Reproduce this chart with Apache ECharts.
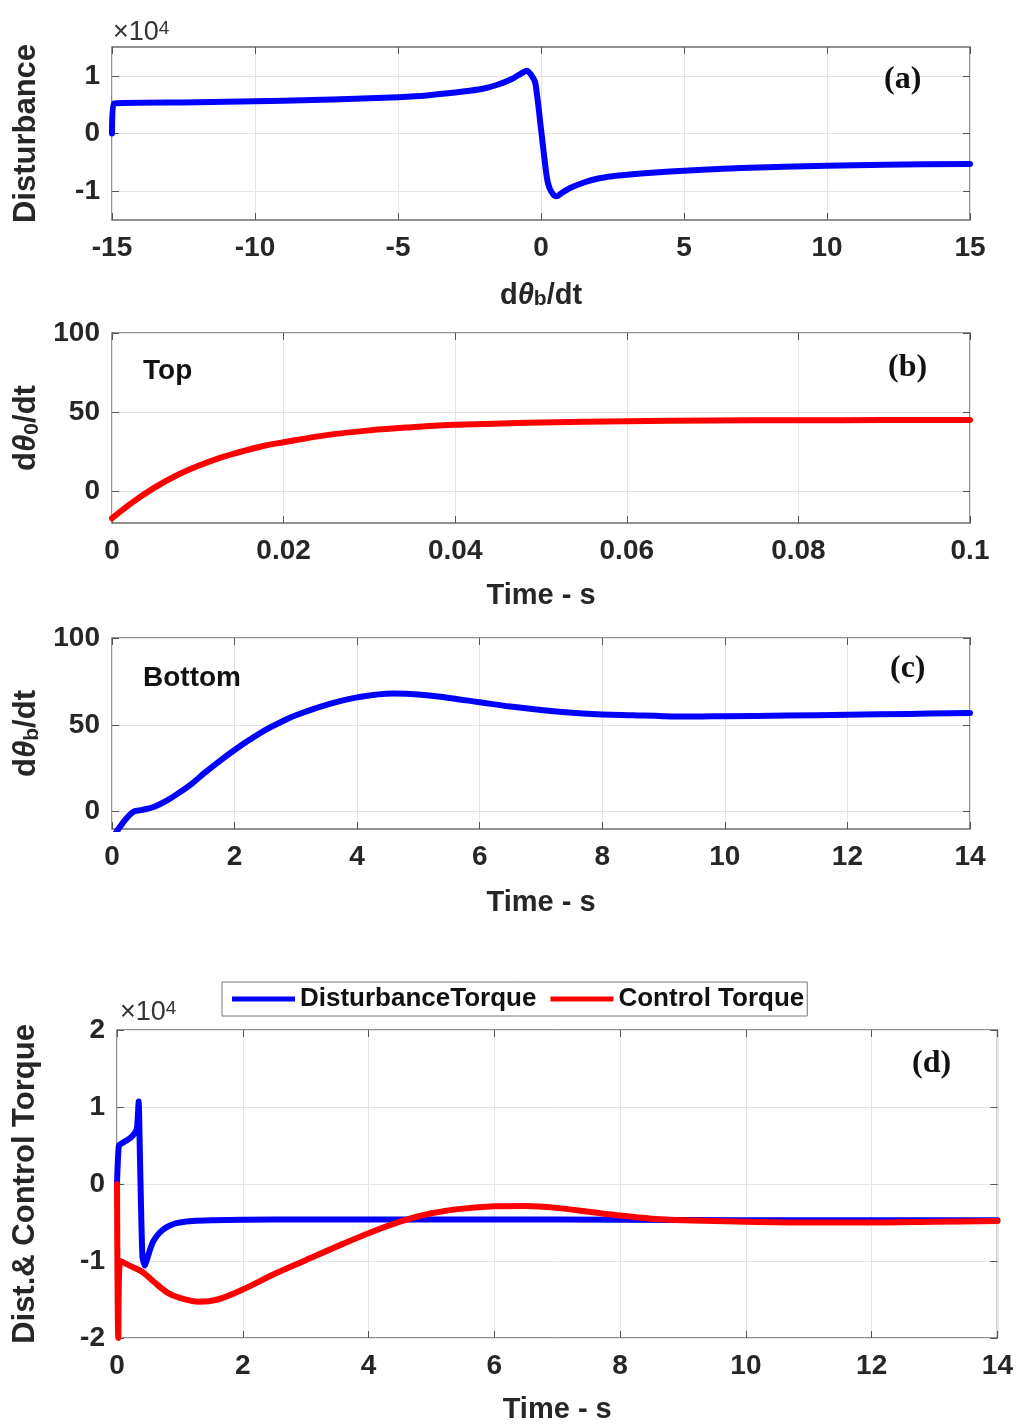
<!DOCTYPE html>
<html><head><meta charset="utf-8">
<script src="https://cdn.jsdelivr.net/npm/echarts@6.0.0/dist/echarts.min.js"></script>
<style>html,body{margin:0;padding:0;background:#fff}#c{width:1016px;height:1428px}</style>
</head><body><div id="c"></div>
<script>
// ---------- data ----------
// (a) disturbance vs d(theta_b)/dt, values in x10^4
const aX = [-15, -14.95, -12, -10, -8, -6, -5, -4, -3, -2.5, -2, -1.5, -1, -0.7, -0.5, -0.35, -0.2, 0, 0.2, 0.3, 0.45, 0.55, 0.7, 1, 1.5, 2, 2.5, 3, 4, 5, 7, 10, 12, 15];
const aY = [0, 0.52, 0.54, 0.56, 0.58, 0.61, 0.63, 0.66, 0.71, 0.74, 0.78, 0.85, 0.95, 1.04, 1.09, 1.02, 0.88, 0.08, -0.75, -0.95, -1.07, -1.09, -1.04, -0.95, -0.85, -0.78, -0.74, -0.715, -0.675, -0.645, -0.60, -0.56, -0.54, -0.53];
// (b) top: d(theta_0)/dt vs time
const bT = [0, 0.0025, 0.005, 0.0075, 0.01, 0.0125, 0.015, 0.0175, 0.02, 0.025, 0.03, 0.035, 0.04, 0.05, 0.06, 0.07, 0.08, 0.09, 0.1];
const bV = [-17, -6.5, 2.5, 10, 16, 21, 25, 28.5, 31, 35.5, 38.5, 40.5, 42, 43.5, 44.3, 44.7, 44.9, 45, 45];
// (c) bottom: d(theta_b)/dt vs time
const cT = [0, 0.35, 0.5, 0.7, 0.9, 1.1, 1.3, 1.5, 1.75, 2, 2.25, 2.5, 2.75, 3, 3.5, 4, 4.6, 5, 5.5, 6, 6.5, 7, 7.5, 8, 8.5, 9, 9.5, 10, 11, 12, 13, 14];
const cV = [-16, 0, 1, 3, 6.5, 11, 16, 22, 29, 35.5, 41.5, 47, 51.5, 55.5, 61.5, 65.8, 68, 67.5, 65.5, 63, 60.5, 58.5, 57, 56, 55.5, 55, 54.8, 55, 55.3, 55.8, 56.3, 56.8];
// (d) disturbance torque and control torque vs time, x10^4
const dT1 = [0, 0.03, 0.1, 0.18, 0.24, 0.29, 0.32, 0.345, 0.365, 0.385, 0.405, 0.44, 0.48, 0.53, 0.58, 0.68, 0.79, 0.9, 1.0, 1.2, 1.5, 2, 3, 4, 6, 8, 10, 12, 14];
const dV1 = [0, 0.5, 0.54, 0.58, 0.62, 0.67, 0.74, 1.07, 0.35, -0.4, -0.95, -1.06, -0.97, -0.84, -0.74, -0.63, -0.56, -0.52, -0.5, -0.48, -0.47, -0.465, -0.46, -0.46, -0.46, -0.465, -0.47, -0.47, -0.47];
const dT2 = [0, 0.02, 0.05, 0.2, 0.4, 0.6, 0.8, 1.0, 1.3, 1.6, 2, 2.5, 3, 3.5, 4, 4.5, 5, 5.5, 6, 6.5, 7, 7.5, 8, 8.5, 9, 10, 11, 12, 13, 14];
const dV2 = [0, -2, -1.0, -1.06, -1.14, -1.28, -1.41, -1.48, -1.53, -1.5, -1.37, -1.17, -0.99, -0.81, -0.64, -0.49, -0.38, -0.32, -0.29, -0.285, -0.31, -0.36, -0.41, -0.45, -0.47, -0.49, -0.5, -0.5, -0.49, -0.48];
// tick values
const aYTicks = [-1, 0, 1];
const bYTicks = [0, 50, 100];
const cYTicks = [0, 50, 100];
const dYTicks = [-2, -1, 0, 1, 2];
const seriesNames = ['DisturbanceTorque', 'Control Torque'];

// ---------- styling ----------
const FONT = "'Liberation Sans', Arial, sans-serif";
const zip = (xs, ys) => xs.map((x, i) => [x, ys[i]]);
const tick = {show: true, inside: true, length: 7, lineStyle: {color: '#555', width: 1}};
const lbl = {fontSize: 28, fontWeight: 'bold', fontFamily: FONT, color: '#262626'};
const mkRich = (fs) => ({
  t: {fontSize: fs, fontStyle: 'italic', fontWeight: 'bold', fontFamily: FONT, color: '#262626'},
  s: {fontSize: 21, fontWeight: 'bold', fontFamily: FONT, color: '#262626', verticalAlign: 'bottom', lineHeight: 6}
});
const xNameStyle = {fontSize: 29, fontWeight: 'bold', fontFamily: FONT, color: '#262626', rich: mkRich(29)};
const yNameStyle = {fontSize: 31, fontWeight: 'bold', fontFamily: FONT, color: '#262626', rich: mkRich(31)};

const grids = [
  {left: 112, top: 47, width: 858, height: 173},
  {left: 112, top: 333, width: 858, height: 190},
  {left: 112, top: 638, width: 858, height: 191},
  {left: 117, top: 1030, width: 883, height: 308}
].map(g => Object.assign(g, {show: true, borderColor: '#6e6e6e', borderWidth: 1.5, backgroundColor: '#fff'}));

const xCfg = [
  {min: -15, max: 15, interval: 5, name: 'd{t|θ}{s|b}/dt', gap: 61},
  {min: 0, max: 0.1, interval: 0.02, name: 'Time - s', gap: 58},
  {min: 0, max: 14, interval: 2, name: 'Time - s', gap: 59},
  {min: 0, max: 14, interval: 2, name: 'Time - s', gap: 57}
];
const yCfg = [
  {min: -1.5, max: 1.5, ticks: aYTicks, name: 'Disturbance', gap: 70},
  {min: -20, max: 100, ticks: bYTicks, name: 'd{t|θ}{s|0}/dt', gap: 66},
  {min: -10, max: 100, ticks: cYTicks, name: 'd{t|θ}{s|b}/dt', gap: 66},
  {min: -2, max: 2, ticks: dYTicks, name: 'Dist.& Control Torque', gap: 76}
];

const xAxis = [], yAxis = [];
xCfg.forEach((c, i) => {
  xAxis.push({gridIndex: i, type: 'value', min: c.min, max: c.max, interval: c.interval,
    axisLine: {show: false, onZero: false}, axisTick: tick,
    axisLabel: Object.assign({margin: 14}, lbl),
    splitLine: {show: true, lineStyle: {color: '#e4e4e4', width: 1}},
    name: c.name, nameLocation: 'middle', nameGap: c.gap, nameTextStyle: xNameStyle});
});
xCfg.forEach((c, i) => {
  xAxis.push({gridIndex: i, type: 'value', position: 'top', min: c.min, max: c.max, interval: c.interval,
    axisLine: {show: false, onZero: false}, axisTick: tick, axisLabel: {show: false}, splitLine: {show: false}});
});
yCfg.forEach((c, i) => {
  yAxis.push({gridIndex: i, type: 'value', min: c.min, max: c.max,
    axisLine: {show: false, onZero: false},
    axisTick: Object.assign({customValues: c.ticks}, tick),
    axisLabel: Object.assign({margin: 12, customValues: c.ticks}, lbl),
    splitLine: {show: true, customValues: c.ticks, lineStyle: {color: '#e4e4e4', width: 1}},
    name: c.name, nameLocation: 'middle', nameGap: c.gap, nameTextStyle: yNameStyle});
});
yCfg.forEach((c, i) => {
  yAxis.push({gridIndex: i, type: 'value', position: 'right', min: c.min, max: c.max,
    axisLine: {show: false, onZero: false}, axisTick: Object.assign({customValues: c.ticks}, tick),
    axisLabel: {show: false, customValues: c.ticks}, splitLine: {show: false}});
});

const line = (name, xi, data, color, smooth) => ({
  name, type: 'line', xAxisIndex: xi, yAxisIndex: xi, data, showSymbol: false, symbol: 'none',
  smooth: smooth, clip: true, z: 3,
  lineStyle: {color, width: 6, join: 'round', cap: 'round'}, itemStyle: {color}
});

const series = [
  line('a', 0, zip(aX, aY), '#0000ff', 0.25),
  line('b', 1, zip(bT, bV), '#ff0000', 0.4),
  line('c', 2, zip(cT, cV), '#0000ff', 0.4),
  line(seriesNames[0], 3, zip(dT1, dV1), '#0000ff', 0.15),
  line(seriesNames[1], 3, zip(dT2, dV2), '#ff0000', 0.3)
];

const txt = (left, top, text, style) => ({type: 'text', left, top, z: 10,
  style: Object.assign({text, fill: '#222'}, style)});
const sci = {fontSize: 27, fontFamily: FONT, fill: '#333', rich: {
  m: {fontSize: 27, fontFamily: FONT, color: '#333'},
  p: {fontSize: 19, fontFamily: FONT, color: '#333', verticalAlign: 'top', lineHeight: 6}}};
const tag = {fontSize: 32, fontWeight: 'bold', fontFamily: "'Liberation Serif', 'Times New Roman', serif", fill: '#111'};
const note = {fontSize: 28, fontWeight: 'bold', fontFamily: FONT, fill: '#111'};

const graphic = [
  txt(113, 19, '{m|×10}{p|4}', sci),
  txt(120, 999, '{m|×10}{p|4}', sci),
  txt(884, 64, '(a)', tag),
  txt(888, 352, '(b)', tag),
  txt(890, 653, '(c)', tag),
  txt(912, 1048, '(d)', tag),
  txt(143, 357, 'Top', note),
  txt(143, 664, 'Bottom', note)
];

const chart = echarts.init(document.getElementById('c'), null, {renderer: 'canvas'});
chart.setOption({
  animation: false,
  backgroundColor: '#fff',
  grid: grids,
  xAxis, yAxis, series, graphic,
  legend: {
    data: seriesNames, left: 222, top: 982, orient: 'horizontal',
    icon: 'rect', itemWidth: 63, itemHeight: 5, itemGap: 14,
    padding: [4, 3, 4, 10], borderColor: '#777', borderWidth: 1, backgroundColor: '#fff',
    textStyle: {fontSize: 26, fontWeight: 'bold', fontFamily: FONT, color: '#111'}
  }
});
</script></body></html>
